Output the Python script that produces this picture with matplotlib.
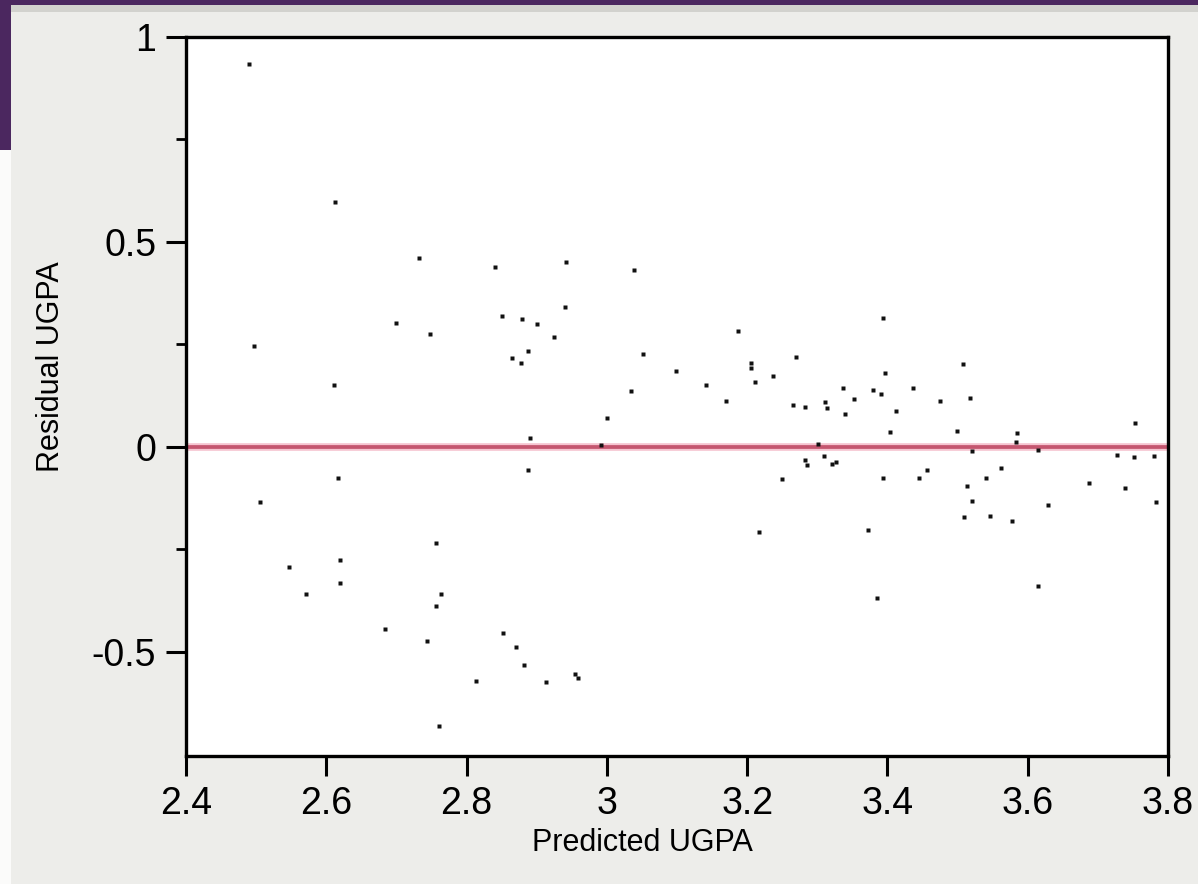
import matplotlib
matplotlib.use('Agg')
import matplotlib.pyplot as plt
import matplotlib.ticker as ticker
from matplotlib.patches import Rectangle

plt.rcParams['font.family'] = ['Liberation Sans', 'DejaVu Sans']

# values
predicted = [2.490, 2.612, 2.732, 2.700, 2.748, 2.497, 2.611, 2.616, 2.505, 2.756,
             2.620, 2.547, 2.620, 2.571, 2.763, 2.757, 2.683, 2.743, 2.813, 2.760,
             2.841, 2.942, 3.038, 2.940, 2.851, 2.879, 2.901, 2.925, 2.887, 2.865,
             2.877, 3.052, 3.099, 3.187, 3.206, 3.206, 3.211, 3.141, 3.170, 3.034,
             3.000, 2.890, 2.991, 2.888, 3.217, 2.852, 2.870, 2.882, 2.913, 2.955,
             2.959, 3.394, 3.270, 3.237, 3.397, 3.336, 3.380, 3.391, 3.436, 3.353,
             3.266, 3.283, 3.311, 3.314, 3.339, 3.412, 3.475, 3.508, 3.518, 3.403,
             3.499, 3.585, 3.301, 3.583, 3.520, 3.615, 3.310, 3.283, 3.285, 3.321,
             3.327, 3.249, 3.393, 3.445, 3.457, 3.562, 3.541, 3.514, 3.521, 3.509,
             3.546, 3.578, 3.373, 3.753, 3.727, 3.751, 3.780, 3.688, 3.738, 3.629,
             3.783, 3.615, 3.385]
residual = [0.933, 0.598, 0.462, 0.302, 0.275, 0.245, 0.151, -0.075, -0.135, -0.235,
            -0.277, -0.294, -0.331, -0.359, -0.360, -0.387, -0.445, -0.473, -0.572, -0.680,
            0.440, 0.450, 0.432, 0.341, 0.320, 0.312, 0.299, 0.268, 0.234, 0.218,
            0.204, 0.227, 0.184, 0.284, 0.204, 0.193, 0.159, 0.150, 0.111, 0.137,
            0.070, 0.021, 0.005, -0.056, -0.208, -0.454, -0.489, -0.533, -0.574, -0.554,
            -0.563, 0.315, 0.219, 0.173, 0.181, 0.143, 0.139, 0.128, 0.143, 0.117,
            0.102, 0.098, 0.110, 0.094, 0.080, 0.087, 0.113, 0.202, 0.120, 0.037,
            0.039, 0.035, 0.007, 0.013, -0.010, -0.007, -0.021, -0.033, -0.045, -0.042,
            -0.036, -0.079, -0.076, -0.076, -0.056, -0.052, -0.075, -0.095, -0.133, -0.170,
            -0.168, -0.180, -0.202, 0.058, -0.020, -0.024, -0.022, -0.089, -0.099, -0.141,
            -0.135, -0.339, -0.368]

x_ticks = [2.4, 2.6, 2.8, 3.0, 3.2, 3.4, 3.6, 3.8]
y_ticks = [-0.5, 0, 0.5, 1]
y_minor = [-0.25, 0.25, 0.75]

W, H = 1198, 884
fig = plt.figure(figsize=(W / 100, H / 100), dpi=100)
fig.patch.set_facecolor('#ededea')

# slide decoration: purple band on top, purple block and white strip on the left
fig.patches.append(Rectangle((0, 1 - 12 / H), 1, 7 / H, transform=fig.transFigure,
                             facecolor='#d2d2ce', edgecolor='none', zorder=0))
fig.patches.append(Rectangle((0, 1 - 5 / H), 1, 5 / H, transform=fig.transFigure,
                             facecolor='#4b275f', edgecolor='none', zorder=0))
fig.patches.append(Rectangle((0, 1 - 150 / H), 11 / W, 150 / H, transform=fig.transFigure,
                             facecolor='#4b275f', edgecolor='none', zorder=0))
fig.patches.append(Rectangle((0, 0), 11 / W, 1 - 150 / H, transform=fig.transFigure,
                             facecolor='#fbfbfa', edgecolor='none', zorder=0))

ax = fig.add_axes([186 / W, 1 - 756 / H, 982 / W, 719 / H])
ax.set_facecolor('white')

ax.axhline(0, color='#f6c4d0', lw=5.5, zorder=1)
ax.axhline(0, color='#c4566f', lw=2.7, zorder=2)
ax.plot(predicted, residual, 's', ms=3.5, color='#111111', mec='none', zorder=3)

ax.set_xlim(2.4, 3.8)
ax.set_ylim(-0.754, 1.0)
ax.set_xticks(x_ticks)
ax.set_yticks(y_ticks)
ax.set_yticks(y_minor, minor=True)
ax.xaxis.set_major_formatter(ticker.FormatStrFormatter('%g'))
ax.yaxis.set_major_formatter(ticker.FormatStrFormatter('%g'))

for s in ax.spines.values():
    s.set_linewidth(2.4)
    s.set_color('black')

ax.tick_params(which='major', direction='out', length=14.4, width=2.2,
               labelsize=27, pad=7, color='black')
ax.tick_params(which='minor', direction='out', length=7.2, width=2.0, color='black')

fig.text(642 / W, 1 - 843 / H, 'Predicted UGPA', fontsize=22, ha='center', va='center')
fig.text(51 / W, 1 - 367 / H, 'Residual UGPA', fontsize=22, ha='center', va='center',
         rotation=90)

plt.savefig('out.png', dpi=100, facecolor=fig.get_facecolor())
